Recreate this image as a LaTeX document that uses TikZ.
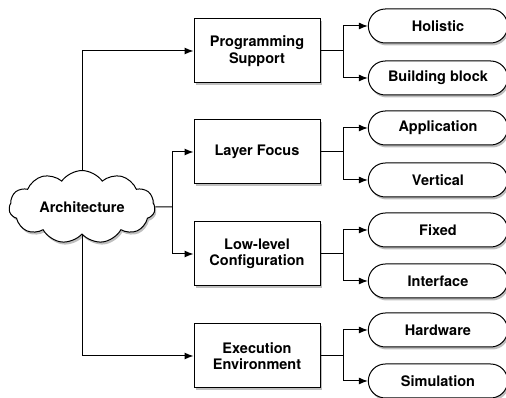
\documentclass[tikz,border=0pt]{standalone}
\usepackage{fontspec}
\setmainfont{TeX Gyre Heros}
\usetikzlibrary{shapes.symbols,shapes.misc,shadows,arrows.meta}
\tikzset{
  shade/.style={drop shadow={shadow xshift=1.5pt,shadow yshift=-2.5pt,opacity=.5}},
  topic/.style={draw,fill=white,line width=1pt,shade,cloud,cloud puffs=11,
    cloud puff arc=110,aspect=2.1,minimum width=146pt,minimum height=68pt,inner sep=0pt},
  facet/.style={draw,fill=white,line width=1pt,shade,minimum width=126pt,
    minimum height=64pt,align=center},
  choice/.style={draw,fill=white,line width=1pt,shade,rounded rectangle,
    minimum width=146pt,minimum height=34pt},
  link/.style={line width=1pt,-{Latex[length=9pt,width=7pt]}}
}
\begin{document}
\begin{tikzpicture}[x=1pt,y=1pt,font=\fontsize{14.5}{16.5}\selectfont\bfseries]
  \useasboundingbox (0,0) rectangle (506,398);
  % root
  \node[topic] (arch) at (82,191) {Architecture};
  % facets
  \node[facet] (ps) at (257,347) {Programming\\Support};
  \node[facet] (lf) at (257,246) {Layer Focus};
  \node[facet] (lc) at (257,144) {Low-level\\Configuration};
  \node[facet] (ee) at (257,42) {Execution\\Environment};
  % choices
  \node[choice] (hol) at (438,372) {Holistic};
  \node[choice] (bb) at (438,320) {Building block};
  \node[choice] (app) at (438,270) {Application};
  \node[choice] (ver) at (438,218) {Vertical};
  \node[choice] (fix) at (438,168) {Fixed};
  \node[choice] (itf) at (438,117) {Interface};
  \node[choice] (hw) at (438,68) {Hardware};
  \node[choice] (sim) at (438,17) {Simulation};
  % root to facets
  \coordinate (mid) at (172,191);
  \draw[line width=1pt] (arch.east) -- (mid);
  \draw[link] (mid) |- (lf.west);
  \draw[link] (mid) |- (lc.west);
  \draw[link] (arch.north) |- (ps.west);
  \draw[link] (arch.south) |- (ee.west);
  % facets to choices
  \foreach \f/\a/\b in {ps/hol/bb,lf/app/ver,lc/fix/itf,ee/hw/sim}{
    \coordinate (\f-fork) at ([xshift=23pt]\f.east);
    \draw[line width=1pt] (\f.east) -- (\f-fork);
    \draw[link] (\f-fork) |- (\a.west);
    \draw[link] (\f-fork) |- (\b.west);
  }
\end{tikzpicture}
\end{document}
